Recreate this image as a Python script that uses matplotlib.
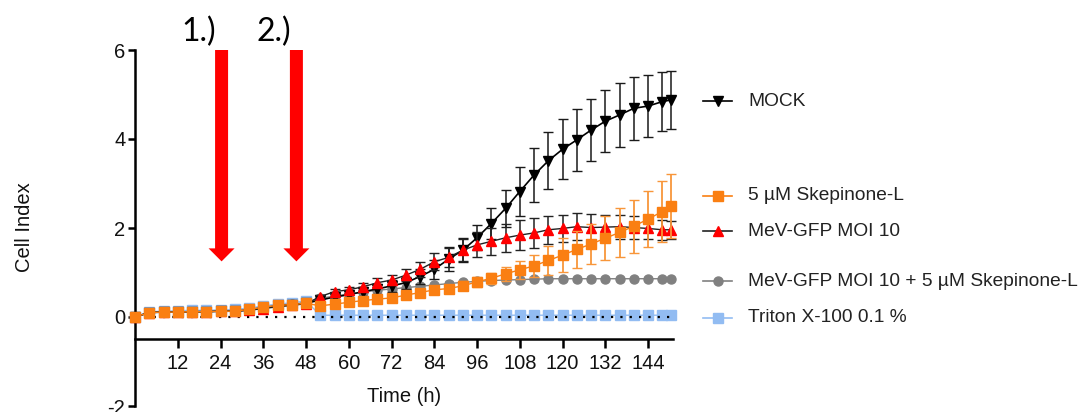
import matplotlib
matplotlib.use("Agg")
import matplotlib.pyplot as plt
from matplotlib.lines import Line2D
from matplotlib.patches import Polygon
import numpy as np

plt.rcParams['font.family'] = ['Liberation Sans', 'DejaVu Sans']
plt.rcParams['axes.unicode_minus'] = False

# Time points (h)
time_h = list(range(0, 149, 4)) + [150.5]

# Mean cell index per condition
mock = [0, 0.10, 0.11, 0.11, 0.12, 0.12, 0.13, 0.13, 0.16, 0.21, 0.25, 0.28, 0.31,
        0.38, 0.45, 0.50, 0.57, 0.63, 0.70, 0.77, 0.91, 1.07, 1.30, 1.50, 1.78,
        2.10, 2.44, 2.82, 3.19, 3.51, 3.77, 3.98, 4.20, 4.40, 4.54, 4.69, 4.74, 4.84, 4.88]
mock_err = [0, 0.02, 0.02, 0.02, 0.02, 0.02, 0.02, 0.02, 0.02, 0.02, 0.03, 0.03, 0.03,
            0.05, 0.06, 0.08, 0.10, 0.12, 0.13, 0.14, 0.16, 0.22, 0.27, 0.27, 0.28,
            0.34, 0.41, 0.56, 0.61, 0.64, 0.67, 0.69, 0.69, 0.70, 0.71, 0.71, 0.70, 0.66, 0.65]

skep = [0, 0.10, 0.11, 0.11, 0.12, 0.12, 0.13, 0.13, 0.17, 0.22, 0.26, 0.28, 0.31,
        0.25, 0.29, 0.33, 0.37, 0.40, 0.43, 0.49, 0.55, 0.61, 0.64, 0.70, 0.79,
        0.87, 0.97, 1.06, 1.15, 1.27, 1.39, 1.52, 1.64, 1.77, 1.90, 2.04, 2.20, 2.37, 2.49]
skep_err = [0, 0.02, 0.02, 0.02, 0.02, 0.02, 0.02, 0.02, 0.02, 0.03, 0.03, 0.03, 0.03,
            0.03, 0.03, 0.04, 0.04, 0.05, 0.05, 0.06, 0.07, 0.08, 0.09, 0.10, 0.11,
            0.13, 0.16, 0.20, 0.25, 0.33, 0.38, 0.42, 0.46, 0.50, 0.56, 0.60, 0.63, 0.68, 0.72]

mev = [0, 0.10, 0.11, 0.11, 0.12, 0.12, 0.13, 0.13, 0.15, 0.19, 0.23, 0.26, 0.30,
       0.46, 0.57, 0.61, 0.68, 0.77, 0.83, 0.94, 1.07, 1.24, 1.34, 1.50, 1.62,
       1.70, 1.78, 1.84, 1.89, 1.96, 1.99, 2.03, 2.01, 2.02, 2.03, 2.01, 1.99, 1.96, 1.96]
mev_err = [0, 0.02, 0.02, 0.02, 0.02, 0.02, 0.02, 0.02, 0.02, 0.02, 0.03, 0.03, 0.03,
           0.04, 0.05, 0.06, 0.08, 0.10, 0.12, 0.14, 0.16, 0.19, 0.22, 0.25, 0.28,
           0.30, 0.32, 0.33, 0.33, 0.32, 0.31, 0.30, 0.30, 0.28, 0.27, 0.26, 0.24, 0.22, 0.20]

mev_skep = [0, 0.10, 0.11, 0.11, 0.12, 0.12, 0.13, 0.13, 0.17, 0.22, 0.26, 0.29, 0.32,
            0.42, 0.47, 0.52, 0.56, 0.60, 0.63, 0.66, 0.69, 0.72, 0.75, 0.78, 0.80,
            0.82, 0.83, 0.84, 0.85, 0.86, 0.86, 0.86, 0.86, 0.86, 0.86, 0.86, 0.86, 0.86, 0.86]
mev_skep_err = [0, 0.02, 0.02, 0.02, 0.02, 0.02, 0.02, 0.02, 0.02, 0.02, 0.02, 0.02, 0.03,
                0.03, 0.03, 0.03, 0.04, 0.04, 0.04, 0.04, 0.05, 0.05, 0.05, 0.05, 0.05,
                0.05, 0.05, 0.04, 0.04, 0.04, 0.04, 0.03, 0.03, 0.03, 0.03, 0.03, 0.03, 0.03, 0.03]

triton = [0, 0.12, 0.13, 0.14, 0.15, 0.15, 0.16, 0.17, 0.20, 0.25, 0.29, 0.32, 0.36,
          0.04, 0.04, 0.04, 0.04, 0.04, 0.04, 0.04, 0.04, 0.04, 0.04, 0.04, 0.04,
          0.04, 0.04, 0.04, 0.04, 0.04, 0.04, 0.04, 0.04, 0.04, 0.04, 0.04, 0.04, 0.04, 0.04]

labels = ["MOCK", "5 µM Skepinone-L", "MeV-GFP MOI 10",
          "MeV-GFP MOI 10 + 5 µM Skepinone-L", "Triton X-100 0.1 %"]
x_ticks = [12, 24, 36, 48, 60, 72, 84, 96, 108, 120, 132, 144]
y_ticks = [-2, 0, 2, 4, 6]
treatment_times = [24.3, 45.3]
treatment_labels = ["1.)", "2.)"]

ORANGE = '#FA7F12'
ORANGE_ERR = '#F8963A'
RED = '#FF0000'
GREY = '#808080'
BLUE = '#92BCF2'

W, H = 1080, 412
fig = plt.figure(figsize=(W / 100, H / 100), dpi=100)
ax = fig.add_axes([135 / W, (H - 406) / H, 538 / W, 356 / H])
ax.set_xlim(0, 151)
ax.set_ylim(-2, 6)

# baseline
ax.plot([0, 151], [0, 0], color='black', lw=1.6, ls=(0, (1, 3.2)), zorder=2.5)

ax.errorbar(time_h, triton, fmt='-', color=BLUE, marker='s', ms=7.5, lw=1,
            zorder=2, clip_on=False)
ax.errorbar(time_h, mev_skep, yerr=mev_skep_err, fmt='-', color=GREY, marker='o', ms=6.5,
            lw=1, ecolor=GREY, elinewidth=1, capsize=3.2, zorder=3, clip_on=False)
ax.errorbar(time_h, mock, yerr=mock_err, fmt='-', color='black', marker='v', ms=7.5,
            lw=1.2, ecolor='#1a1a1a', elinewidth=1.1, capsize=3.8, zorder=4, clip_on=False)
ax.errorbar(time_h, mev, yerr=mev_err, fmt='-', color='#222222', marker='^', ms=7.5,
            mfc=RED, mec=RED, lw=1, ecolor='#222222', elinewidth=1.1, capsize=3.8,
            zorder=5, clip_on=False)
ax.errorbar(time_h, skep, yerr=skep_err, fmt='-', color=ORANGE, marker='s', ms=7.5,
            lw=1, ecolor=ORANGE_ERR, elinewidth=1.3, capsize=3.8, zorder=6, clip_on=False)

# axes styling
for s in ['top', 'right']:
    ax.spines[s].set_visible(False)
ax.spines['bottom'].set_position(('data', -0.5))
ax.spines['left'].set_linewidth(1.8)
ax.spines['bottom'].set_linewidth(1.8)
ax.set_xticks(x_ticks)
ax.set_yticks(y_ticks)
ax.tick_params(axis='x', length=6.5, width=1.8, pad=4, labelsize=14.5, colors='black')
ax.tick_params(axis='y', length=5, width=1.8, pad=2, labelsize=14.5, colors='black')
for lab in ax.get_xticklabels() + ax.get_yticklabels():
    lab.set_color('#111111')

fig.text(404 / W, 1 - 396 / H, "Time (h)", ha='center', va='center', fontsize=14.5, color='#111111')
fig.text(25 / W, 1 - 227 / H, "Cell Index", ha='center', va='center', rotation=90,
         fontsize=14.5, color='#111111')

# treatment arrows (drawn in pixel space)
fig.canvas.draw()
for tt, lab in zip(treatment_times, treatment_labels):
    cx, top = ax.transData.transform((tt, 6.0))
    _, tip = ax.transData.transform((tt, 1.25))
    sw, hw, hl = 6.5, 13, 13
    pts = [(cx - sw, top), (cx + sw, top), (cx + sw, tip + hl), (cx + hw, tip + hl),
           (cx, tip), (cx - hw, tip + hl), (cx - sw, tip + hl)]
    fig.add_artist(Polygon(pts, closed=True, facecolor=RED, edgecolor='none',
                           transform=None, zorder=10))
    fig.text((cx - 22.5) / W, 1 - 32 / H, lab, ha='center', va='center', fontsize=23,
             family=['Lato', 'DejaVu Sans'], color='black')

# legend rows
legend_rows = [
    (101, 'black', 'black', 'v', 7.5),
    (196, ORANGE, ORANGE, 's', 7.5),
    (231, '#222222', RED, '^', 7.5),
    (281, GREY, GREY, 'o', 6.5),
    (318, BLUE, BLUE, 's', 7.5),
]
for (ypx, lc, mc, mk, ms), lab in zip(legend_rows, labels):
    yf = 1 - ypx / H
    fig.add_artist(Line2D([703 / W, 732 / W], [yf, yf], color=lc, lw=1.2,
                          transform=fig.transFigure))
    fig.add_artist(Line2D([717.5 / W], [yf], marker=mk, ms=ms, mfc=mc, mec=mc,
                          transform=fig.transFigure))
    fig.text(748 / W, yf, lab, ha='left', va='center', fontsize=13.8, color='#222222')

fig.savefig("out.png", dpi=100)
